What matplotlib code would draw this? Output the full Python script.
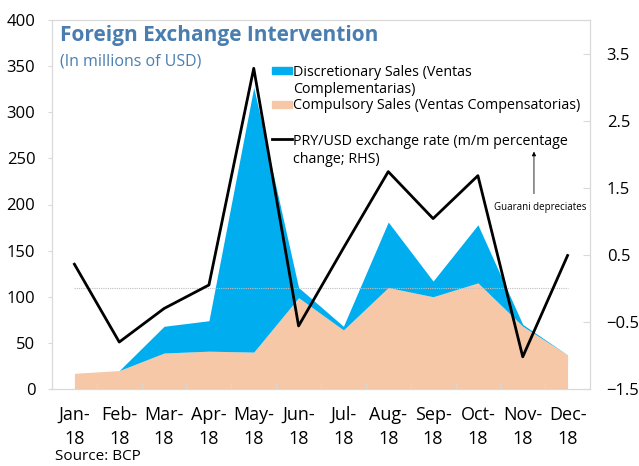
import numpy as np
import matplotlib
matplotlib.use("Agg")
import matplotlib.pyplot as plt
from matplotlib.patches import Rectangle
from matplotlib.lines import Line2D

plt.rcParams['font.family'] = ['Open Sans', 'DejaVu Sans']

# Data
months = ["Jan-\n18", "Feb-\n18", "Mar-\n18", "Apr-\n18", "May-\n18", "Jun-\n18",
          "Jul-\n18", "Aug-\n18", "Sep-\n18", "Oct-\n18", "Nov-\n18", "Dec-\n18"]
compulsory = [17, 20, 39, 41, 40, 99, 64, 110, 100, 115, 68, 37]
discretionary = [0, 0, 29, 33, 287, 11, 4, 71, 17, 63, 2, 0]
fx_change = [0.36, -0.80, -0.30, 0.05, 3.28, -0.56, 0.60, 1.74, 1.04, 1.68, -1.02, 0.49]

BLUE = "#00AEEF"
PEACH = "#F6C8A7"
TITLE = "#4A7EB0"
FRAME = "#D9D9D9"

W, H = 639, 466


def fx(px):
    return px / W


def fy(py):
    return 1 - py / H


x = np.arange(len(months))
total = np.array(compulsory) + np.array(discretionary)

fig = plt.figure(figsize=(W / 100, H / 100), dpi=100)
ax = fig.add_axes([fx(52), fy(389), fx(590) - fx(52), fy(20) - fy(389)])

ax.fill_between(x, 0, compulsory, color=PEACH, linewidth=0)
ax.fill_between(x, compulsory, total, color=BLUE, linewidth=0)

ax.set_xlim(-0.5, 11.5)
ax.set_ylim(0, 400)
ax.set_yticks(range(0, 401, 50))
ax.set_xticks(x)
ax.set_xticklabels(months, linespacing=1.45)
ax.set_xticks(np.arange(0.5, 11, 1), minor=True)
ax.tick_params(axis='x', which='major', length=0, pad=12, labelsize=13)
ax.tick_params(axis='x', which='minor', length=5, direction='in', color=FRAME)
ax.tick_params(axis='y', length=3, color=FRAME, labelsize=12, pad=9)
for s in ax.spines.values():
    s.set_color(FRAME)

ax2 = ax.twinx()
ax2.set_ylim(-1.5, 4.0)
ax2.set_yticks([-1.5, -0.5, 0.5, 1.5, 2.5, 3.5])
ax2.tick_params(axis='y', length=5, direction='in', color=FRAME, labelsize=12, pad=12)
for s in ax2.spines.values():
    s.set_color(FRAME)

ax2.plot([x[0], x[-1]], [0, 0], color="#BFBFBF", linestyle=(0, (1, 1)), linewidth=0.8)
ax2.plot(x, fx_change, color="black", linewidth=2.0)

ax2.annotate("", xy=(10.25, 2.08), xytext=(10.25, 1.37),
             arrowprops=dict(arrowstyle='-|>', color='black', lw=0.6,
                             mutation_scale=6))
ax2.text(10.38, 1.21, "Guarani depreciates", fontsize=7, ha='center', va='center')

# title and subtitle
fig.text(fx(60), fy(41), "Foreign Exchange Intervention", fontsize=15,
         fontweight='bold', color=TITLE, va='baseline')
fig.text(fx(60), fy(65), "(In millions of USD)", fontsize=11.5,
         color=TITLE, va='baseline')

# legend, laid out like the original
fig.add_artist(Rectangle((fx(272), fy(74)), fx(292) - fx(272), fy(67) - fy(74),
                         color=BLUE, transform=fig.transFigure))
fig.add_artist(Rectangle((fx(272), fy(108)), fx(292) - fx(272), fy(101) - fy(108),
                         color=PEACH, transform=fig.transFigure))
fig.add_artist(Line2D([fx(272), fx(292)], [fy(139), fy(139)], color='black',
                      lw=2, transform=fig.transFigure))
leg_font = 10.3
fig.text(fx(293), fy(75.5), "Discretionary Sales (Ventas", fontsize=leg_font, va='baseline')
fig.text(fx(293), fy(93), "Complementarias)", fontsize=leg_font, va='baseline')
fig.text(fx(293), fy(109), "Compulsory Sales (Ventas Compensatorias)", fontsize=leg_font,
         va='baseline')
fig.text(fx(293), fy(145), "PRY/USD exchange rate (m/m percentage", fontsize=leg_font,
         va='baseline')
fig.text(fx(293), fy(163), "change; RHS)", fontsize=leg_font, va='baseline')

fig.text(fx(55), fy(449), "Source: BCP", fontsize=11, va='top')

fig.savefig("out.png", dpi=100)
